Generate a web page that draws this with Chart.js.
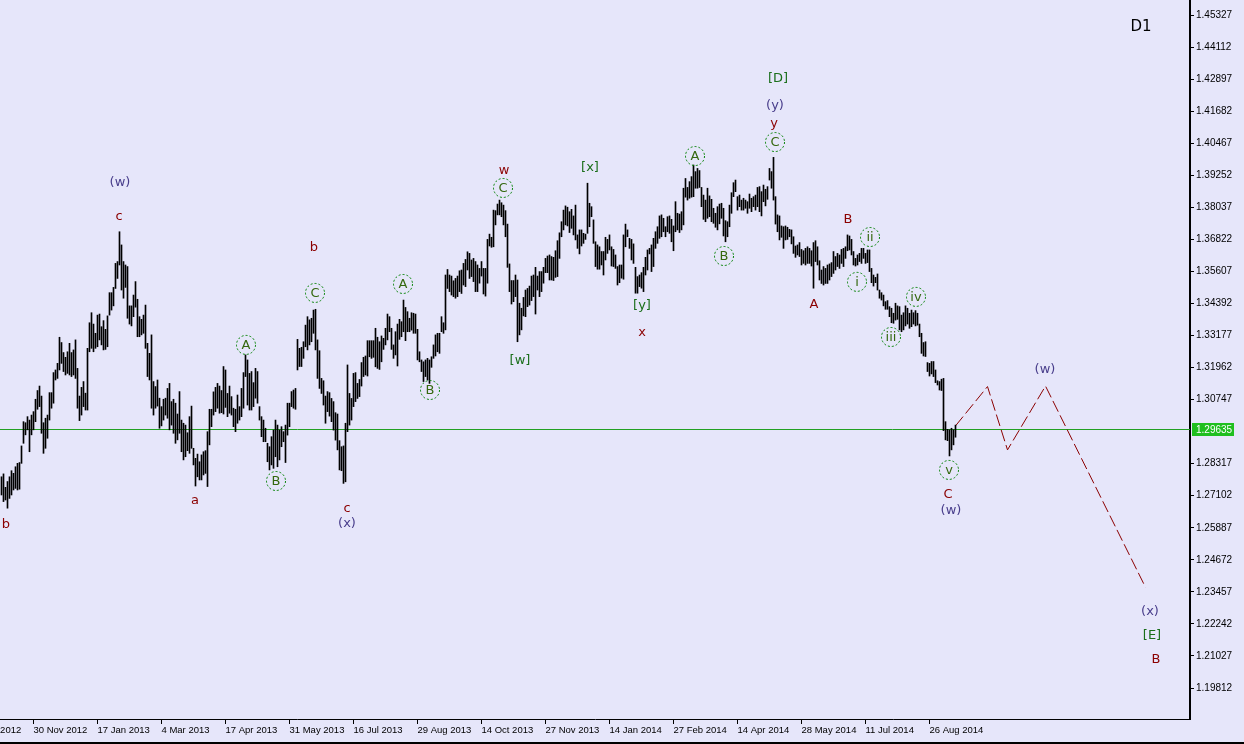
<!DOCTYPE html>
<html>
<head>
<meta charset="utf-8">
<script src="https://cdn.jsdelivr.net/npm/chart.js@4.4.1/dist/chart.umd.min.js"></script>
<style>
  html, body { margin: 0; padding: 0; background: #e6e6fa; }
  canvas { display: block; }
</style>
</head>
<body>
<canvas id="d1Chart" width="1244" height="744"></canvas>
<script>
// daily bars, EURUSD D1 (high / low per bar)
const highs = [
  1.2782,1.2793,1.2742,1.2764,1.2782,1.2805,1.2795,1.2820,1.2833,1.2836,
  1.2899,1.2991,1.2987,1.3010,1.2997,1.3016,1.3029,1.3076,1.3109,1.3126,
  1.3088,1.2987,1.3004,1.3016,1.3101,1.3101,1.3177,1.3187,1.3212,1.3311,
  1.3291,1.3253,1.3235,1.3256,1.3288,1.3253,1.3263,1.3301,1.3193,1.3088,
  1.3121,1.3143,1.3099,1.3269,1.3366,1.3404,1.3361,1.3326,1.3395,1.3399,
  1.3351,1.3374,1.3341,1.3392,1.3480,1.3480,1.3500,1.3591,1.3598,1.3711,
  1.3661,1.3598,1.3585,1.3579,1.3430,1.3430,1.3471,1.3522,1.3455,1.3389,
  1.3379,1.3395,1.3433,1.3288,1.3250,1.3320,1.3143,1.3124,1.3149,1.3080,
  1.3048,1.3076,1.3080,1.3117,1.3136,
  1.3067,1.3076,1.3061,1.3020,1.3105,1.2997,1.2985,1.2978,1.2949,1.3010,
  1.3050,1.2890,1.2852,1.2868,1.2839,1.2865,1.2877,1.2881,1.2953,1.3038,
  1.3038,1.3104,1.3121,1.3136,1.3126,1.3109,1.3200,1.3187,1.3098,1.3126,
  1.3086,1.3042,1.3038,1.3092,1.3048,1.3117,1.3177,1.3244,1.3225,1.3174,
  1.3181,1.3139,1.3193,1.3181,1.3048,1.3010,1.2997,1.2966,1.2909,1.2896,
  1.2934,1.2959,1.2997,1.2978,1.2959,1.2972,1.2953,1.2978,1.3061,1.3061,
  1.3105,1.3111,1.3117,1.3303,1.3269,1.3273,1.3294,1.3357,1.3389,1.3377,
  1.3383,1.3414,1.3417,1.3301,1.3260,1.3155,1.3146,1.3088,1.3105,
  1.3101,1.3079,1.3067,1.3025,1.3020,1.2919,1.2896,1.2899,1.2985,1.3206,
  1.3098,1.3079,1.3174,1.3177,1.3136,1.3151,1.3215,1.3235,1.3240,1.3298,
  1.3298,1.3298,1.3298,1.3345,1.3311,1.3294,1.3316,1.3307,1.3345,1.3399,
  1.3389,1.3345,1.3282,1.3332,1.3361,1.3379,1.3370,1.3452,1.3424,1.3408,
  1.3383,1.3404,1.3402,1.3399,1.3341,1.3256,1.3225,1.3218,1.3225,1.3231,
  1.3225,1.3237,1.3282,1.3320,1.3326,1.3326,1.3389,1.3366,1.3547,1.3568,
  1.3547,1.3543,1.3525,1.3534,1.3543,1.3563,1.3566,1.3591,1.3606,1.3635,
  1.3629,1.3604,1.3610,1.3598,1.3585,1.3572,
  1.3598,1.3572,1.3572,1.3682,1.3702,1.3690,1.3793,1.3791,1.3816,1.3831,
  1.3821,1.3812,1.3791,1.3740,1.3589,1.3526,1.3526,1.3547,1.3528,1.3440,
  1.3421,1.3462,1.3490,1.3496,1.3505,1.3543,1.3547,1.3576,1.3543,1.3560,
  1.3560,1.3576,1.3610,1.3619,1.3623,1.3617,1.3614,1.3639,1.3677,1.3707,
  1.3749,1.3793,1.3809,1.3804,1.3787,1.3796,1.3771,1.3812,1.3699,1.3718,
  1.3718,1.3705,1.3702,1.3895,1.3819,1.3806,1.3756,1.3673,1.3661,1.3654,
  1.3636,1.3636,1.3690,1.3682,1.3699,1.3654,1.3644,1.3623,1.3579,1.3585,
  1.3585,1.3699,1.3740,1.3718,1.3686,1.3682,1.3665,1.3576,1.3541,1.3547,
  1.3556,1.3576,1.3614,1.3642,1.3648,
  1.3661,1.3686,1.3711,1.3730,1.3771,1.3775,1.3762,1.3730,1.3768,1.3771,
  1.3758,1.3733,1.3825,1.3781,1.3778,1.3787,1.3876,1.3913,1.3879,1.3901,
  1.3920,1.3964,1.3939,1.3951,1.3943,1.3879,1.3850,1.3831,1.3876,1.3847,
  1.3834,1.3800,1.3781,1.3806,1.3816,1.3819,1.3800,1.3753,1.3749,1.3812,
  1.3859,1.3897,1.3907,1.3844,1.3850,1.3831,1.3838,1.3831,1.3825,1.3854,
  1.3838,1.3844,1.3850,1.3879,1.3882,1.3863,1.3888,1.3872,1.3882,1.3951,
  1.3939,1.3993,1.3844,1.3775,1.3771,1.3733,1.3730,1.3733,1.3728,1.3720,
  1.3718,1.3692,1.3657,1.3661,1.3670,1.3644,1.3639,1.3648,1.3654,1.3648,
  1.3639,1.3670,1.3677,1.3654,1.3601,1.3566,1.3579,1.3572,1.3585,1.3589,
  1.3594,1.3636,1.3617,1.3629,1.3623,1.3644,1.3648,1.3654,1.3699,1.3695,
  1.3682,1.3636,1.3610,1.3623,1.3629,1.3648,1.3648,1.3629,1.3642,1.3642,
  1.3572,1.3547,1.3538,1.3551,1.3490,1.3480,1.3471,1.3446,1.3450,1.3427,
  1.3421,1.3402,1.3440,1.3430,1.3427,1.3395,1.3404,1.3430,1.3421,1.3402,
  1.3414,1.3404,1.3412,1.3402,1.3361,1.3326,1.3291,1.3294,1.3215,1.3212,
  1.3219,1.3219,1.3187,1.3146,1.3143,1.3152,1.3155,1.2991,1.2962,1.2960,
  1.2966,1.2960,1.2978
];
const lows = [
  1.2713,1.2688,1.2694,1.2663,1.2700,1.2713,1.2732,1.2738,1.2732,1.2735,
  1.2833,1.2909,1.2941,1.2960,1.2877,1.2941,1.2960,1.2991,1.3038,1.3048,
  1.2947,1.2871,1.2890,1.2928,1.2997,1.3042,1.3061,1.3149,1.3155,1.3187,
  1.3212,1.3181,1.3168,1.3174,1.3168,1.3162,1.3168,1.3155,1.3042,1.2995,
  1.3016,1.3048,1.3035,1.3035,1.3256,1.3269,1.3256,1.3269,1.3275,1.3301,
  1.3282,1.3263,1.3265,1.3275,1.3395,1.3414,1.3430,1.3496,1.3534,1.3585,
  1.3490,1.3459,1.3500,1.3383,1.3361,1.3354,1.3389,1.3425,1.3313,1.3313,
  1.3320,1.3326,1.3269,1.3162,1.3149,1.3042,1.3016,1.3042,1.3050,1.2966,
  1.2975,1.2997,1.3016,1.3004,1.2960,
  1.2978,1.2947,1.2909,1.2922,1.2947,1.2877,1.2846,1.2858,1.2881,1.2871,
  1.2890,1.2827,1.2747,1.2782,1.2770,1.2770,1.2789,1.2795,1.2745,1.2903,
  1.2972,1.3016,1.3029,1.3042,1.3023,1.3025,1.3020,1.3045,1.3010,1.3023,
  1.3016,1.2972,1.2953,1.2985,1.2997,1.3010,1.3042,1.3162,1.3054,1.3035,
  1.3035,1.3048,1.3080,1.3061,1.2997,1.2934,1.2915,1.2915,1.2839,1.2808,
  1.2827,1.2814,1.2858,1.2820,1.2846,1.2896,1.2915,1.2836,1.2940,1.2972,
  1.3048,1.3042,1.3038,1.3187,1.3200,1.3200,1.3231,1.3275,1.3263,1.3282,
  1.3294,1.3326,1.3263,1.3155,1.3117,1.3098,1.3054,1.2985,1.3029,
  1.3012,1.2991,1.2959,1.2921,1.2884,1.2808,1.2805,1.2757,1.2763,1.2953,
  1.2978,1.2997,1.3048,1.3067,1.3079,1.3086,1.3126,1.3162,1.3168,1.3164,
  1.3237,1.3231,1.3235,1.3199,1.3193,1.3189,1.3218,1.3265,1.3282,1.3301,
  1.3332,1.3265,1.3231,1.3244,1.3202,1.3303,1.3313,1.3332,1.3298,1.3332,
  1.3332,1.3338,1.3326,1.3326,1.3225,1.3218,1.3181,1.3143,1.3162,1.3149,
  1.3136,1.3197,1.3231,1.3240,1.3256,1.3250,1.3332,1.3326,1.3339,1.3496,
  1.3484,1.3471,1.3465,1.3459,1.3465,1.3484,1.3477,1.3509,1.3503,1.3566,
  1.3534,1.3541,1.3522,1.3484,1.3484,1.3516,
  1.3543,1.3475,1.3467,1.3516,1.3657,1.3652,1.3654,1.3737,1.3775,1.3775,
  1.3768,1.3737,1.3692,1.3576,1.3484,1.3437,1.3446,1.3465,1.3294,1.3320,
  1.3339,1.3392,1.3389,1.3427,1.3433,1.3450,1.3465,1.3399,1.3490,1.3465,
  1.3484,1.3516,1.3556,1.3556,1.3528,1.3528,1.3526,1.3538,1.3541,1.3610,
  1.3692,1.3718,1.3737,1.3733,1.3708,1.3724,1.3699,1.3680,1.3648,1.3627,
  1.3657,1.3667,1.3682,1.3705,1.3730,1.3768,1.3667,1.3579,1.3569,1.3569,
  1.3585,1.3547,1.3604,1.3629,1.3642,1.3581,1.3579,1.3572,1.3509,1.3518,
  1.3535,1.3531,1.3654,1.3692,1.3648,1.3604,1.3591,1.3478,1.3478,1.3503,
  1.3497,1.3484,1.3547,1.3566,1.3627,
  1.3560,1.3579,1.3648,1.3667,1.3686,1.3692,1.3711,1.3692,1.3711,1.3705,
  1.3673,1.3639,1.3711,1.3718,1.3708,1.3718,1.3737,1.3842,1.3831,1.3838,
  1.3842,1.3844,1.3876,1.3876,1.3879,1.3806,1.3758,1.3749,1.3762,1.3768,
  1.3749,1.3743,1.3728,1.3718,1.3741,1.3762,1.3695,1.3673,1.3692,1.3730,
  1.3781,1.3844,1.3863,1.3793,1.3806,1.3793,1.3793,1.3800,1.3781,1.3800,
  1.3787,1.3806,1.3793,1.3806,1.3787,1.3771,1.3825,1.3809,1.3834,1.3907,
  1.3876,1.3831,1.3740,1.3711,1.3680,1.3690,1.3648,1.3680,1.3682,1.3692,
  1.3665,1.3629,1.3614,1.3623,1.3617,1.3585,1.3591,1.3585,1.3591,1.3591,
  1.3581,1.3497,1.3598,1.3585,1.3528,1.3515,1.3509,1.3515,1.3515,1.3528,
  1.3541,1.3553,1.3566,1.3579,1.3572,1.3591,1.3579,1.3610,1.3639,1.3642,
  1.3623,1.3585,1.3581,1.3585,1.3598,1.3591,1.3610,1.3591,1.3594,1.3560,
  1.3518,1.3505,1.3518,1.3490,1.3459,1.3452,1.3430,1.3417,1.3417,1.3389,
  1.3366,1.3364,1.3376,1.3379,1.3339,1.3332,1.3339,1.3354,1.3361,1.3345,
  1.3351,1.3361,1.3354,1.3357,1.3313,1.3250,1.3240,1.3238,1.3181,1.3164,
  1.3172,1.3162,1.3139,1.3130,1.3111,1.3109,1.2957,1.2922,1.2919,1.2861,
  1.2884,1.2903,1.2932
];
const lastClose = 1.29635;

// time axis labels (bar number -> date)
const dateBars = [-16,16,48,80,112,144,176,208,240,272,304,336,368,400,432,464];
const dateLabels = ["15 Oct 2012","30 Nov 2012","17 Jan 2013","4 Mar 2013","17 Apr 2013",
  "31 May 2013","16 Jul 2013","29 Aug 2013","14 Oct 2013","27 Nov 2013","14 Jan 2014",
  "27 Feb 2014","14 Apr 2014","28 May 2014","11 Jul 2014","26 Aug 2014"];

// price scale
const priceTicks = [1.45327,1.44112,1.42897,1.41682,1.40467,1.39252,1.38037,1.36822,
  1.35607,1.34392,1.33177,1.31962,1.30747,1.28317,1.27102,1.25887,1.24672,1.23457,
  1.22242,1.21027,1.19812];

// forecast path (dashed)
const projBars = [477, 493, 503, 522, 572];
const projPrices = [1.2975, 1.3124, 1.2884, 1.3126, 1.2363];

// wave marks: m = minor (red), p = (x) degree, g = [x] degree, o = circled
const waveText = ['b','(w)','c','a','A','B','b','C','c','(x)','A','B','w','C','[w]','[x]','[y]','x','A','B',
  '[D]','(y)','y','C','B','A','i','ii','iii','iv','v','C','(w)','(w)','(x)','[E]','B'];
const waveKind = ['m','p','m','m','o','o','m','o','m','p','o','o','m','o','g','g','g','m','o','o',
  'g','p','m','o','m','m','o','o','o','o','o','m','p','p','p','g','m'];
const waveBar = [2.25,59.25,58.75,96.75,122.25,137.25,156.25,156.75,172.75,172.75,200.75,214.25,251.25,
  250.75,259.25,294.25,320.25,320.25,346.75,361.25,388.25,386.75,386.25,386.75,423.25,406.25,427.75,
  434.25,444.75,457.25,473.75,473.25,474.75,521.75,574.25,575.25,577.25];
const wavePrice = [1.2603,1.3900,1.3771,1.2694,1.3282,1.2766,1.3653,1.3479,1.2664,1.2607,1.3513,1.3111,
  1.3945,1.3877,1.3225,1.3957,1.3433,1.3331,1.3998,1.3619,1.4294,1.4192,1.4123,1.4051,1.3759,1.3437,
  1.3521,1.3691,1.3312,1.3464,1.2808,1.2717,1.2656,1.3191,1.2273,1.2182,1.2091];

const kindColor = { m: '#8b0000', p: '#483d8b', g: '#1a6e1a', o: '#35680f' };
const labelFont = '13px "DejaVu Sans", sans-serif';
const axisFont = { family: 'Liberation Sans', size: 10 };
const dateFont = { family: 'Liberation Sans', size: 9.5 };

// current price line (under the bars)
const priceLine = {
  id: 'priceLine',
  beforeDatasetsDraw(chart) {
    const { ctx, chartArea, scales } = chart;
    const y = Math.round(scales.y.getPixelForValue(lastClose)) + 0.5;
    ctx.save();
    ctx.strokeStyle = '#22a022';
    ctx.lineWidth = 1;
    ctx.beginPath();
    ctx.moveTo(chartArea.left, y);
    ctx.lineTo(chartArea.right, y);
    ctx.stroke();
    ctx.restore();
  }
};

// wave labels, price box, D1 caption
const marks = {
  id: 'marks',
  afterDraw(chart) {
    const { ctx, chartArea, scales } = chart;
    ctx.save();
    ctx.font = labelFont;
    ctx.textAlign = 'center';
    ctx.textBaseline = 'middle';
    for (let i = 0; i < waveText.length; i++) {
      const x = scales.x.getPixelForValue(waveBar[i]);
      const y = scales.y.getPixelForValue(wavePrice[i]);
      if (waveKind[i] === 'o') {
        ctx.beginPath();
        ctx.setLineDash([2, 2]);
        ctx.strokeStyle = '#008000';
        ctx.lineWidth = 1;
        ctx.arc(x, y, 9.5, 0, Math.PI * 2);
        ctx.stroke();
        ctx.setLineDash([]);
      }
      ctx.fillStyle = kindColor[waveKind[i]];
      ctx.fillText(waveText[i], x, y + 1);
    }

    // last price tag on the axis
    const py = Math.round(scales.y.getPixelForValue(lastClose));
    ctx.fillStyle = '#1fbf1f';
    ctx.fillRect(chartArea.right + 2, py - 6, 42, 13);
    ctx.fillStyle = '#ffffff';
    ctx.font = '10px "Liberation Sans", sans-serif';
    ctx.textAlign = 'left';
    ctx.fillText(lastClose.toFixed(5), chartArea.right + 6, py + 1);

    ctx.fillStyle = '#000';
    ctx.font = '15px "DejaVu Sans", sans-serif';
    ctx.textAlign = 'center';
    ctx.fillText('D1', chartArea.right - 49, 27);

    // window bottom edge
    ctx.fillRect(0, 742, chart.width, 2);
    ctx.restore();
  }
};

const ctx = document.getElementById('d1Chart').getContext('2d');
const chart = new Chart(ctx, {
  type: 'bar',
  data: {
    datasets: [
      {
        type: 'bar',
        data: highs.map((h, i) => ({ x: i, y: [lows[i], h] })),
        backgroundColor: '#000',
        borderWidth: 0,
        barThickness: 1,
        grouped: false
      },
      {
        type: 'line',
        data: projBars.map((b, i) => ({ x: b, y: projPrices[i] })),
        borderColor: '#8b0000',
        borderWidth: 1,
        borderDash: [12, 4],
        pointRadius: 0,
        fill: false,
        tension: 0
      }
    ]
  },
  options: {
    responsive: false,
    animation: false,
    devicePixelRatio: 1,
    layout: { padding: 0 },
    plugins: { legend: { display: false }, tooltip: { enabled: false } },
    scales: {
      x: {
        type: 'linear',
        min: -0.75,
        max: 594.25,
        offset: false,
        afterBuildTicks: s => { s.ticks = dateBars.map(v => ({ value: v })); },
        afterFit: s => { s.height = 25; s.paddingLeft = 0; s.paddingRight = 0; },
        ticks: {
          autoSkip: false,
          maxRotation: 0,
          align: 'start',
          padding: 1,
          color: '#000',
          font: dateFont,
          callback: v => dateLabels[dateBars.indexOf(v)]
        },
        grid: { drawOnChartArea: false, offset: false, tickLength: 5, color: '#000' },
        border: { color: '#000', width: 1 }
      },
      y: {
        position: 'right',
        min: 1.18637,
        max: 1.45896,
        afterBuildTicks: s => { s.ticks = priceTicks.map(v => ({ value: v })); },
        afterFit: s => { s.width = 54; s.paddingTop = 0; s.paddingBottom = 0; },
        ticks: {
          autoSkip: false,
          padding: 2,
          color: '#000',
          font: axisFont,
          callback: v => v.toFixed(5)
        },
        grid: { drawOnChartArea: false, tickLength: 4, color: '#000' },
        border: { color: '#000', width: 2 }
      }
    }
  },
  plugins: [priceLine, marks]
});
</script>
</body>
</html>
